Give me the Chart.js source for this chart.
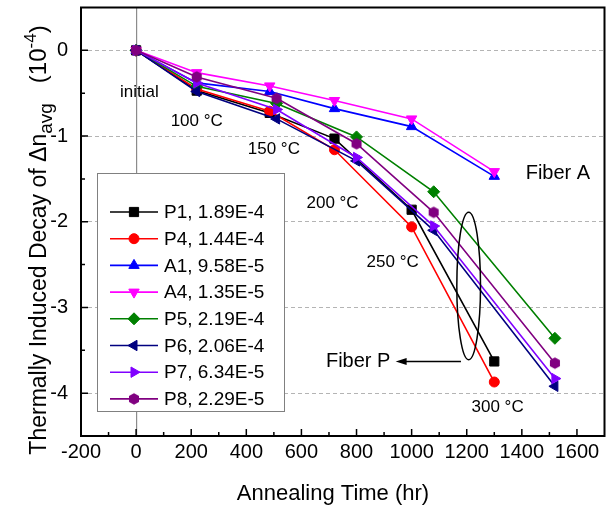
<!DOCTYPE html>
<html>
<head>
<meta charset="utf-8">
<title>Thermally Induced Decay</title>
<script src="https://cdn.jsdelivr.net/npm/chart.js@4.4.0/dist/chart.umd.min.js"></script>
<style>
  html, body { margin: 0; padding: 0; background: #fff; overflow: hidden; }
  #wrap { width: 612px; height: 510px; }
</style>
</head>
<body>
<div id="wrap"><canvas id="chart" width="612" height="510"></canvas></div>
<script>
/* ========= Data ========= */
const SERIES_NAMES = ["P1, 1.89E-4", "P4, 1.44E-4", "A1, 9.58E-5", "A4, 1.35E-5",
                      "P5, 2.19E-4", "P6, 2.06E-4", "P7, 6.34E-5", "P8, 2.29E-5"];

// annealing times (hr): P1, P4, A1, A4 share one schedule, P5..P8 another
const TIME_A = [0, 220, 485, 720, 1000, 1300];
const TIME_B = [0, 220, 510, 800, 1080, 1520];

const P1 = [0, -0.47, -0.73, -1.03, -1.86, -3.63];
const P4 = [0, -0.45, -0.71, -1.16, -2.06, -3.87];
const A1 = [0, -0.38, -0.48, -0.68, -0.89, -1.47];
const A4 = [0, -0.26, -0.415, -0.585, -0.80, -1.415];
const P5 = [0, -0.42, -0.62, -1.01, -1.65, -3.36];
const P6 = [0, -0.48, -0.80, -1.29, -2.10, -3.92];
const P7 = [0, -0.38, -0.69, -1.25, -2.05, -3.83];
const P8 = [0, -0.31, -0.56, -1.09, -1.89, -3.65];

const X_TICKS = [-200, 0, 200, 400, 600, 800, 1000, 1200, 1400, 1600];
const Y_TICKS = [-4, -3, -2, -1, 0];

// text notes, placed in data units
const NOTE_TEXT = ["initial", "100 °C", "150 °C", "200 °C", "250 °C", "300 °C"];
const NOTE_X = [12, 220, 500, 713, 931, 1312];
const NOTE_Y = [-0.49, -0.83, -1.15, -1.79, -2.47, -4.17];

/* ========= Styles ========= */
const FONT = "'Liberation Sans', Arial, sans-serif";

function hexagon(color, r) {
  const c = document.createElement("canvas");
  c.width = c.height = Math.ceil(2 * r + 2);
  const g = c.getContext("2d");
  g.fillStyle = color;
  g.beginPath();
  for (let i = 0; i < 6; i++) {
    const a = -Math.PI / 2 + i * Math.PI / 3;
    const px = c.width / 2 + r * Math.cos(a), py = c.height / 2 + r * Math.sin(a);
    i ? g.lineTo(px, py) : g.moveTo(px, py);
  }
  g.closePath();
  g.fill();
  return c;
}

const STYLES = [
  { color: "#000000", style: "rect",     rot: 0,   r: 6.5 },
  { color: "#ff0000", style: "circle",   rot: 0,   r: 5 },
  { color: "#0000ff", style: "triangle", rot: 0,   r: 6 },
  { color: "#ff00ff", style: "triangle", rot: 180, r: 6 },
  { color: "#008000", style: "rectRot",  rot: 0,   r: 6 },
  { color: "#000080", style: "triangle", rot: 270, r: 6 },
  { color: "#8000ff", style: "triangle", rot: 90,  r: 6 },
  { color: "#800080", style: hexagon("#800080", 5.8), rot: 0, r: 6 }
];

const VALUES = [P1, P4, A1, A4, P5, P6, P7, P8];
const TIMES = [TIME_A, TIME_A, TIME_A, TIME_A, TIME_B, TIME_B, TIME_B, TIME_B];

const datasets = VALUES.map((vals, i) => ({
  label: SERIES_NAMES[i],
  data: vals.map((v, k) => ({ x: TIMES[i][k], y: v })),
  borderColor: STYLES[i].color,
  backgroundColor: STYLES[i].color,
  borderWidth: 1.6,
  pointStyle: STYLES[i].style,
  pointRotation: STYLES[i].rot,
  pointRadius: STYLES[i].r,
  pointBorderWidth: 1,
  tension: 0,
  order: VALUES.length - i
}));

/* ========= Plugins ========= */
const notesPlugin = {
  id: "notes",
  afterDatasetsDraw(chart) {
    const { ctx, scales: { x, y } } = chart;
    ctx.save();
    ctx.fillStyle = "#000";
    ctx.textAlign = "center";
    ctx.textBaseline = "middle";
    ctx.font = `17px ${FONT}`;
    NOTE_TEXT.forEach((t, i) => ctx.fillText(t, x.getPixelForValue(NOTE_X[i]), y.getPixelForValue(NOTE_Y[i])));

    ctx.font = `20px ${FONT}`;
    ctx.fillText("Fiber A", x.getPixelForValue(1531), y.getPixelForValue(-1.44));
    ctx.fillText("Fiber P", x.getPixelForValue(806), y.getPixelForValue(-3.63));

    // ellipse around P curves
    ctx.strokeStyle = "#000";
    ctx.lineWidth = 1.5;
    const cx = x.getPixelForValue(1207), cy = y.getPixelForValue(-2.75);
    const rx = x.getPixelForValue(1250) - cx, ry = y.getPixelForValue(-3.61) - cy;
    ctx.beginPath();
    ctx.ellipse(cx, cy, rx, ry, 0, 0, Math.PI * 2);
    ctx.stroke();

    // arrow to "Fiber P"
    const ay = y.getPixelForValue(-3.63);
    const ax0 = x.getPixelForValue(1179), ax1 = x.getPixelForValue(942);
    ctx.beginPath();
    ctx.moveTo(ax0, ay);
    ctx.lineTo(ax1 + 8, ay);
    ctx.stroke();
    ctx.fillStyle = "#000";
    ctx.beginPath();
    ctx.moveTo(ax1, ay);
    ctx.lineTo(ax1 + 11, ay - 3.5);
    ctx.lineTo(ax1 + 11, ay + 3.5);
    ctx.closePath();
    ctx.fill();
    ctx.restore();
  }
};

const legendBoxPlugin = {
  id: "legendBox",
  afterDatasetsDraw(chart) {
    const ctx = chart.ctx;
    const box = { left: 97, top: 173, right: 284, bottom: 411, row0: 212, gap: 26.7 };
    ctx.save();
    ctx.fillStyle = "#fff";
    ctx.fillRect(box.left, box.top, box.right - box.left, box.bottom - box.top);
    ctx.strokeStyle = "#808080";
    ctx.lineWidth = 1;
    ctx.strokeRect(box.left + 0.5, box.top + 0.5, box.right - box.left, box.bottom - box.top);

    chart.data.datasets.forEach((ds, i) => {
      const yy = box.row0 + i * box.gap;
      ctx.strokeStyle = ds.borderColor;
      ctx.lineWidth = ds.borderWidth;
      ctx.beginPath();
      ctx.moveTo(110, yy);
      ctx.lineTo(158, yy);
      ctx.stroke();
      ctx.fillStyle = ds.backgroundColor;
      ctx.lineWidth = 1;
      Chart.helpers.drawPoint(ctx, {
        pointStyle: ds.pointStyle, rotation: ds.pointRotation,
        radius: ds.pointRadius, borderWidth: 1
      }, 134, yy);
      ctx.fillStyle = "#000";
      ctx.font = `19px ${FONT}`;
      ctx.textAlign = "left";
      ctx.textBaseline = "middle";
      ctx.fillText(ds.label, 164, yy + 1);
    });
    ctx.restore();
  }
};

const frameTitlesPlugin = {
  id: "frameTitles",
  afterDraw(chart) {
    const { ctx, chartArea: a, scales: { x, y } } = chart;
    ctx.save();
    ctx.strokeStyle = "#000";
    ctx.lineWidth = 2;
    ctx.strokeRect(a.left, a.top, a.right - a.left, a.bottom - a.top);

    // inward tick marks, major and minor
    ctx.lineWidth = 1.5;
    ctx.beginPath();
    X_TICKS.forEach(v => {
      const px = x.getPixelForValue(v);
      ctx.moveTo(px, a.bottom); ctx.lineTo(px, a.bottom - 7);
      const mid = x.getPixelForValue(v + (X_TICKS[1] - X_TICKS[0]) / 2);
      if (mid < a.right) { ctx.moveTo(mid, a.bottom); ctx.lineTo(mid, a.bottom - 4); }
    });
    Y_TICKS.forEach(v => {
      const py = y.getPixelForValue(v);
      ctx.moveTo(a.left, py); ctx.lineTo(a.left + 7, py);
      const mid = y.getPixelForValue(v - 0.5);
      ctx.moveTo(a.left, mid); ctx.lineTo(a.left + 4, mid);
    });
    ctx.stroke();

    // axis titles
    ctx.fillStyle = "#000";
    ctx.font = `22px ${FONT}`;
    ctx.textAlign = "center";
    ctx.textBaseline = "alphabetic";
    ctx.fillText("Annealing Time (hr)", 333, 500);

    const parts = [
      ["Thermally Induced Decay of Δn", 23, 0],
      ["avg", 19, 6],
      ["   (10", 24, 0],
      ["-4", 17, -10],
      [")", 24, 0]
    ];
    let total = 0;
    parts.forEach(p => { ctx.font = `${p[1]}px ${FONT}`; p.push(ctx.measureText(p[0]).width); total += p[3]; });
    ctx.translate(46, 240);
    ctx.rotate(-Math.PI / 2);
    ctx.textAlign = "left";
    let pos = -total / 2;
    parts.forEach(p => {
      ctx.font = `${p[1]}px ${FONT}`;
      ctx.fillText(p[0], pos, p[2]);
      pos += p[3];
    });
    ctx.restore();
  }
};

/* ========= Chart ========= */
Chart.defaults.font.family = FONT;
Chart.defaults.color = "#000";

new Chart(document.getElementById("chart"), {
  type: "line",
  data: { datasets },
  options: {
    responsive: false,
    animation: false,
    layout: { padding: { top: 6, right: 2, left: 0, bottom: 0 } },
    plugins: { legend: { display: false }, tooltip: { enabled: false } },
    scales: {
      x: {
        type: "linear",
        min: -200, max: 1700,
        afterBuildTicks: s => { s.ticks = X_TICKS.map(v => ({ value: v })); },
        afterFit: s => { s.height = 74; s.paddingLeft = 0; s.paddingRight = 0; },
        ticks: { font: { size: 20 }, padding: 4, maxRotation: 0, callback: v => String(v) },
        grid: {
          drawTicks: false,
          color: c => (c.tick && c.tick.value === 0 ? "#8c8c8c" : "rgba(0,0,0,0)"),
          lineWidth: 1.2
        },
        border: { display: false }
      },
      y: {
        min: -4.5, max: 0.5,
        afterBuildTicks: s => { s.ticks = Y_TICKS.map(v => ({ value: v })); },
        afterFit: s => { s.width = 81; s.paddingTop = 0; s.paddingBottom = 0; },
        ticks: { font: { size: 20 }, padding: 13, callback: v => String(v) },
        grid: { drawTicks: false, color: "#b4b4b4", lineWidth: 1 },
        border: { display: false, dash: [4, 3] }
      }
    }
  },
  plugins: [notesPlugin, legendBoxPlugin, frameTitlesPlugin]
});
</script>
</body>
</html>
